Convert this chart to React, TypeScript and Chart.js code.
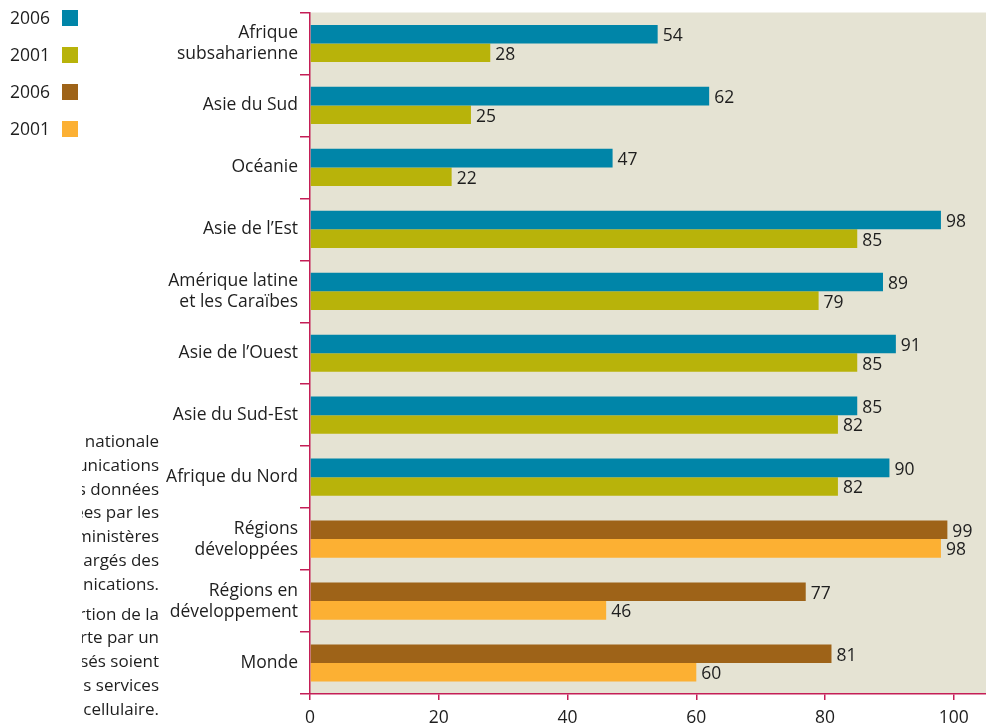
import React, { useEffect, useRef } from "react";
import { Chart, registerables } from "chart.js";

Chart.register(...registerables);

const categories: (string | string[])[] = [
  ["Afrique", "subsaharienne"],
  "Asie du Sud",
  "Océanie",
  "Asie de l’Est",
  ["Amérique latine", "et les Caraïbes"],
  "Asie de l’Ouest",
  "Asie du Sud-Est",
  "Afrique du Nord",
  ["Régions", "développées"],
  ["Régions en", "développement"],
  "Monde",
];

const regions2006: (number | null)[] = [54, 62, 47, 98, 89, 91, 85, 90, null, null, null];
const regions2001: (number | null)[] = [28, 25, 22, 85, 79, 85, 82, 82, null, null, null];
const groups2006: (number | null)[] = [null, null, null, null, null, null, null, null, 99, 77, 81];
const groups2001: (number | null)[] = [null, null, null, null, null, null, null, null, 98, 46, 60];

const xTicks = [0, 20, 40, 60, 80, 100];

const legendItems = [
  { label: "2006", color: "#0085a8" },
  { label: "2001", color: "#b8b30a" },
  { label: "2006", color: "#9e6318" },
  { label: "2001", color: "#fcb033" },
];

// Visible (cropped) fragments of the side note
const noteLines1 = [
  "nationale",
  "unications",
  "s données",
  "ées par les",
  "ministères",
  "argés des",
  "nications.",
];
const noteLines2 = [
  "rtion de la",
  "rte par un",
  "sés soient",
  "s services",
  "cellulaire.",
];

const FONT = "'Open Sans', sans-serif";
const CRIMSON = "#c41e56";
const TEXT = "#1e1e1e";

const bgPlugin = {
  id: "plotBg",
  beforeDraw(chart: any) {
    const { ctx, chartArea } = chart;
    ctx.save();
    ctx.fillStyle = "#e5e3d3";
    ctx.fillRect(chartArea.left, chartArea.top, chartArea.right - chartArea.left, chartArea.bottom - chartArea.top);
    ctx.restore();
  },
};

const valueLabels = {
  id: "valueLabels",
  afterDatasetsDraw(chart: any) {
    const { ctx } = chart;
    ctx.save();
    ctx.font = `17.5px ${FONT}`;
    ctx.fillStyle = TEXT;
    ctx.textAlign = "left";
    ctx.textBaseline = "middle";
    chart.data.datasets.forEach((ds: any, di: number) => {
      const meta = chart.getDatasetMeta(di);
      meta.data.forEach((el: any, i: number) => {
        const v = ds.data[i];
        if (v === null || v === undefined) return;
        ctx.fillText(String(v), el.x + 5, el.y + 2);
      });
    });
    ctx.restore();
  },
};

export default function App() {
  const ref = useRef<HTMLCanvasElement | null>(null);

  useEffect(() => {
    if (!ref.current) return;
    const chart = new Chart(ref.current, {
      type: "bar",
      data: {
        labels: categories,
        datasets: [
          { label: "2006", data: regions2006, backgroundColor: legendItems[0].color },
          { label: "2001", data: regions2001, backgroundColor: legendItems[1].color },
          { label: "2006 ", data: groups2006, backgroundColor: legendItems[2].color },
          { label: "2001 ", data: groups2001, backgroundColor: legendItems[3].color },
        ],
      },
      options: {
        indexAxis: "y",
        animation: false,
        responsive: false,
        skipNull: true,
        categoryPercentage: 0.6,
        barPercentage: 1.0,
        layout: { padding: { top: 10, left: 0, right: 0, bottom: 0 } },
        plugins: { legend: { display: false }, tooltip: { enabled: false } },
        scales: {
          x: {
            type: "linear",
            min: 0,
            max: 105,
            afterBuildTicks: (s: any) => {
              s.ticks = xTicks.map((v) => ({ value: v }));
            },
            afterFit: (s: any) => {
              s.height = 33;
            },
            grid: { drawOnChartArea: false, color: CRIMSON, tickLength: 6, lineWidth: 1.5 },
            border: { color: CRIMSON, width: 1.5 },
            ticks: { font: { family: FONT, size: 17.5 }, color: TEXT, padding: 8, maxRotation: 0 },
          },
          y: {
            type: "category",
            offset: true,
            afterFit: (s: any) => {
              s.width = 310;
            },
            grid: { drawOnChartArea: false, color: CRIMSON, tickLength: 10, lineWidth: 1.5, offset: true },
            border: { color: CRIMSON, width: 1.5 },
            ticks: { font: { family: FONT, size: 17.5, lineHeight: 1.2 }, color: TEXT, padding: 2 },
          },
        },
      } as any,
      plugins: [bgPlugin, valueLabels],
    });
    return () => chart.destroy();
  }, []);

  const textStyle: React.CSSProperties = {
    fontFamily: FONT,
    fontSize: 17,
    color: TEXT,
    lineHeight: "23.8px",
    textAlign: "right",
    whiteSpace: "nowrap",
  };

  return (
    <div style={{ position: "fixed", left: 0, top: 0, width: 986, height: 727, overflow: "hidden", background: "#fff" }}>
      <canvas ref={ref} width={986} height={727} style={{ position: "absolute", left: 0, top: 0, display: "block" }} />
      {legendItems.map((it, i) => (
        <div key={i} style={{ position: "absolute", left: 0, top: 6 + i * 37, height: 22, width: 80 }}>
          <span style={{ position: "absolute", left: 10, top: 0, fontFamily: FONT, fontSize: 17.5, lineHeight: "22px", color: TEXT }}>{it.label}</span>
          <span style={{ position: "absolute", left: 62, top: 4, width: 16, height: 16, background: it.color }} />
        </div>
      ))}
      <div style={{ position: "absolute", left: 82, top: 429, width: 77, overflow: "hidden" }}>
        <div style={{ ...textStyle, position: "relative", width: 200, marginLeft: -123 }}>
          {noteLines1.map((l, i) => (
            <div key={i}>{l}</div>
          ))}
          <div style={{ height: 6 }} />
          {noteLines2.map((l, i) => (
            <div key={"b" + i}>{l}</div>
          ))}
        </div>
      </div>
    </div>
  );
}
